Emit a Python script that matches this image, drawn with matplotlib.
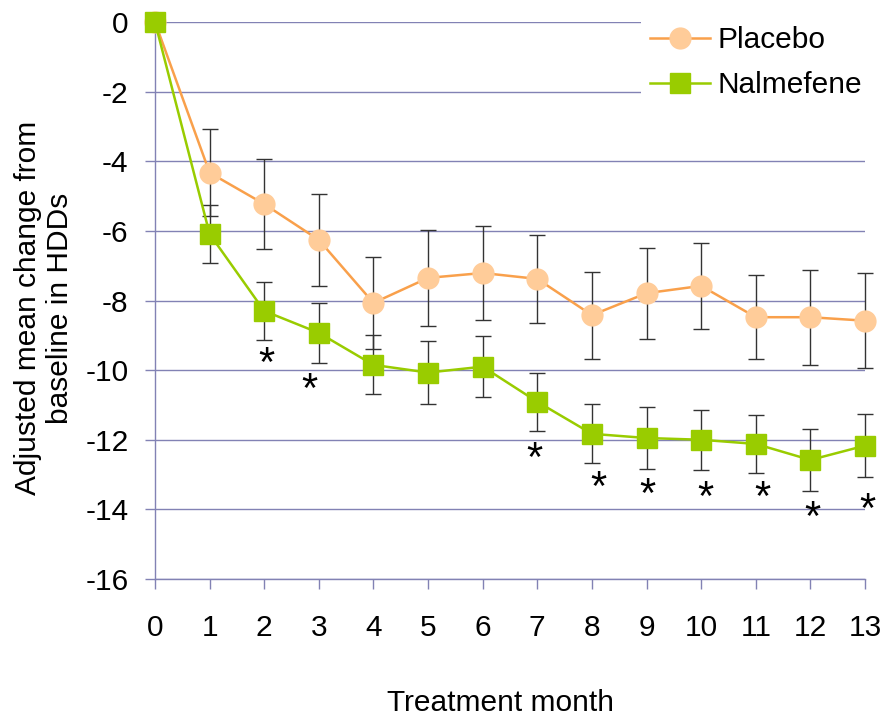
import numpy as np
import matplotlib
matplotlib.use("Agg")
import matplotlib.pyplot as plt

plt.rcParams['font.family'] = ['Liberation Sans', 'DejaVu Sans']
plt.rcParams['axes.unicode_minus'] = False

months = list(range(14))
placebo = [0, -4.33, -5.23, -6.26, -8.07, -7.35, -7.21, -7.38, -8.42, -7.79, -7.58, -8.48, -8.48, -8.58]
placebo_err = [0, 1.25, 1.30, 1.32, 1.33, 1.37, 1.36, 1.27, 1.25, 1.31, 1.24, 1.20, 1.36, 1.36]
nalmefene = [0, -6.09, -8.30, -8.93, -9.85, -10.07, -9.90, -10.91, -11.83, -11.95, -12.00, -12.12, -12.58, -12.17]
nalmefene_err = [0, 0.84, 0.83, 0.86, 0.85, 0.90, 0.88, 0.83, 0.85, 0.89, 0.86, 0.83, 0.90, 0.91]

# significance asterisks (centre of glyph)
sig_x = [2.04, 2.82, 6.95, 8.11, 9.02, 10.07, 11.13, 12.03, 13.05]
sig_y = [-9.52, -10.27, -12.25, -13.07, -13.28, -13.35, -13.35, -13.93, -13.69]

yticks = list(range(-16, 1, 2))
xticks = list(range(0, 14))

FS = 21.5
grid_c = '#8282b4'
fig = plt.figure(figsize=(8.85, 7.19), dpi=100)
ax = fig.add_axes([155/885, 1-579/719, 710/885, 557/719])

m = np.array(months)
pe = np.array(placebo_err)
ne = np.array(nalmefene_err)
mask_p = pe > 0
mask_n = ne > 0
ax.errorbar(m[mask_p], np.array(placebo)[mask_p], yerr=pe[mask_p], fmt='none',
            ecolor='#333333', elinewidth=1.0, capsize=6, capthick=1.0, zorder=3, clip_on=False)
ax.errorbar(m[mask_n], np.array(nalmefene)[mask_n], yerr=ne[mask_n], fmt='none',
            ecolor='#333333', elinewidth=1.0, capsize=6, capthick=1.0, zorder=3, clip_on=False)

ax.plot(months, placebo, color='#F9A04B', lw=1.8, marker='o', ms=15,
        mfc='#FFCC99', mec='#FFCC99', zorder=4, clip_on=False, label='Placebo')
ax.plot(months, nalmefene, color='#99CC00', lw=1.8, marker='s', ms=14,
        mfc='#99CC00', mec='#99CC00', zorder=5, clip_on=False, label='Nalmefene')

for x, y in zip(sig_x, sig_y):
    ax.annotate('*', (x, y), xytext=(0, -16.5), textcoords='offset points',
                ha='center', va='baseline', fontsize=30, color='black', zorder=6,
                annotation_clip=False)

ax.set_xlim(0, 13)
ax.set_ylim(-16, 0)
ax.set_xticks(xticks)
ax.set_yticks(yticks)
ax.yaxis.grid(True, color=grid_c, lw=1.0)
ax.set_axisbelow(True)
for s in ['top', 'right']:
    ax.spines[s].set_visible(False)
for s in ['left', 'bottom']:
    ax.spines[s].set_color(grid_c)
    ax.spines[s].set_linewidth(1.0)
ax.tick_params(axis='both', direction='out', length=7, width=1.0, color=grid_c,
               labelsize=FS)
ax.tick_params(axis='y', pad=12)
ax.tick_params(axis='x', pad=18)

ax.set_xlabel('Treatment month', fontsize=FS)
ax.xaxis.set_label_coords(0.487, -0.197)
ax.set_ylabel('Adjusted mean change from\nbaseline in HDDs', fontsize=FS)
ax.yaxis.set_label_coords(-0.114, 0.4865)

leg = ax.legend(loc='upper left', bbox_to_anchor=(641/885, 1-17/719), bbox_transform=fig.transFigure,
                fontsize=FS, frameon=True, fancybox=False, edgecolor='none', facecolor='white',
                framealpha=1, handlelength=2.0, labelspacing=0.585, handletextpad=0.25,
                borderpad=0.3, borderaxespad=0.0)

fig.savefig('out.png', dpi=100)
